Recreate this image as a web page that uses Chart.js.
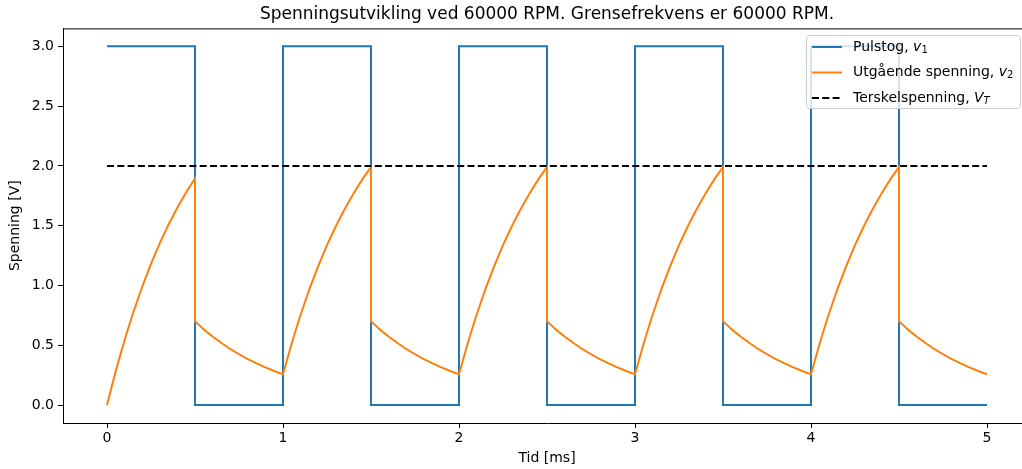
<!DOCTYPE html>
<html>
<head>
<meta charset="utf-8">
<script src="https://cdn.jsdelivr.net/npm/chart.js@4"></script>
<style>
  html, body { margin: 0; padding: 0; background: #fff; overflow: hidden; }
  #wrap { position: absolute; left: 0; top: 0; width: 1040px; height: 469px; }
</style>
</head>
<body>
<div id="wrap"><canvas id="chart" width="1040" height="469"></canvas></div>
<script>
// Pulstog v1
const pulsTid = [0, 0.5, 0.5, 1, 1, 1.5, 1.5, 2, 2, 2.5, 2.5, 3, 3, 3.5, 3.5, 4, 4, 4.5, 4.5, 5];
const pulsV   = [3, 3, 0, 0, 3, 3, 0, 0, 3, 3, 0, 0, 3, 3, 0, 0, 3, 3, 0, 0];

// Utgående spenning v2 (lest av figuren)
const v2Tid = [
  0, 0.05, 0.1, 0.15, 0.2, 0.25, 0.3, 0.35, 0.4, 0.45, 0.5,
  0.5, 0.55, 0.6, 0.65, 0.7, 0.75, 0.8, 0.85, 0.9, 0.95, 1,
  1.05, 1.1, 1.15, 1.2, 1.25, 1.3, 1.35, 1.4, 1.45, 1.5,
  1.5, 1.55, 1.6, 1.65, 1.7, 1.75, 1.8, 1.85, 1.9, 1.95, 2,
  2.05, 2.1, 2.15, 2.2, 2.25, 2.3, 2.35, 2.4, 2.45, 2.5,
  2.5, 2.55, 2.6, 2.65, 2.7, 2.75, 2.8, 2.85, 2.9, 2.95, 3,
  3.05, 3.1, 3.15, 3.2, 3.25, 3.3, 3.35, 3.4, 3.45, 3.5,
  3.5, 3.55, 3.6, 3.65, 3.7, 3.75, 3.8, 3.85, 3.9, 3.95, 4,
  4.05, 4.1, 4.15, 4.2, 4.25, 4.3, 4.35, 4.4, 4.45, 4.5,
  4.5, 4.55, 4.6, 4.65, 4.7, 4.75, 4.8, 4.85, 4.9, 4.95, 5
];
const v2 = [
  0, 0.286, 0.544, 0.778, 0.989, 1.180, 1.354, 1.510, 1.652, 1.780, 1.896,
  0.700, 0.633, 0.573, 0.519, 0.469, 0.425, 0.384, 0.348, 0.315, 0.285, 0.258,
  0.519, 0.755, 0.969, 1.162, 1.337, 1.495, 1.638, 1.768, 1.885, 1.991,
  0.700, 0.633, 0.573, 0.519, 0.469, 0.425, 0.384, 0.348, 0.315, 0.285, 0.258,
  0.519, 0.755, 0.969, 1.162, 1.337, 1.495, 1.638, 1.768, 1.885, 1.991,
  0.700, 0.633, 0.573, 0.519, 0.469, 0.425, 0.384, 0.348, 0.315, 0.285, 0.258,
  0.519, 0.755, 0.969, 1.162, 1.337, 1.495, 1.638, 1.768, 1.885, 1.991,
  0.700, 0.633, 0.573, 0.519, 0.469, 0.425, 0.384, 0.348, 0.315, 0.285, 0.258,
  0.519, 0.755, 0.969, 1.162, 1.337, 1.495, 1.638, 1.768, 1.885, 1.991,
  0.700, 0.633, 0.573, 0.519, 0.469, 0.425, 0.384, 0.348, 0.315, 0.285, 0.258
];

// Terskelspenning VT
const terskelTid = [0, 5];
const terskelV = [2, 2];

const xTicks = [0, 1, 2, 3, 4, 5];
const yTicks = [0, 0.5, 1, 1.5, 2, 2.5, 3];

const legendTekst = ['Pulstog, ', 'Utgående spenning, ', 'Terskelspenning, '];
const legendSymbol = [['v', '1'], ['v', '2'], ['V', 'T']];

const FONT = "'DejaVu Sans', sans-serif";
const BLUE = '#1f77b4', ORANGE = '#ff7f0e';

function pts(xs, ys) { return xs.map((x, i) => ({ x: x, y: ys[i] })); }

// top spine + matplotlib-style legend with subscripts
const extras = {
  id: 'extras',
  afterDatasetsDraw(chart) {
    const ctx = chart.ctx, a = chart.chartArea;
    ctx.save();
    ctx.strokeStyle = '#000';
    ctx.lineWidth = 1;
    ctx.beginPath();
    ctx.moveTo(a.left, a.top + 0.5);
    ctx.lineTo(a.right, a.top + 0.5);
    ctx.stroke();

    // legend box
    const bx = 806, by = 35, bw = 214, bh = 73;
    ctx.beginPath();
    ctx.roundRect(bx + 0.5, by + 0.5, bw, bh, 3);
    ctx.fillStyle = 'rgba(255,255,255,0.8)';
    ctx.fill();
    ctx.strokeStyle = '#cccccc';
    ctx.stroke();

    const rows = [47, 72.5, 98];
    const colors = [BLUE, ORANGE, '#000'];
    rows.forEach((ry, i) => {
      ctx.strokeStyle = colors[i];
      ctx.lineWidth = 2;
      ctx.setLineDash(i === 2 ? [7, 3.3] : []);
      ctx.beginPath();
      ctx.moveTo(812, ry);
      ctx.lineTo(842, ry);
      ctx.stroke();
      ctx.setLineDash([]);

      ctx.fillStyle = '#000';
      ctx.textBaseline = 'middle';
      ctx.textAlign = 'left';
      ctx.font = '14px ' + FONT;
      let tx = 853;
      ctx.fillText(legendTekst[i], tx, ry);
      tx += ctx.measureText(legendTekst[i]).width;
      ctx.font = 'italic 14px ' + FONT;
      ctx.fillText(legendSymbol[i][0], tx, ry);
      tx += ctx.measureText(legendSymbol[i][0]).width;
      ctx.font = (legendSymbol[i][1] === 'T' ? 'italic ' : '') + '10px ' + FONT;
      ctx.fillText(legendSymbol[i][1], tx, ry + 3);
    });
    ctx.restore();
  }
};

new Chart(document.getElementById('chart'), {
  type: 'line',
  data: {
    datasets: [
      { label: 'Pulstog', data: pts(pulsTid, pulsV), borderColor: BLUE, borderWidth: 2, pointRadius: 0, order: 3 },
      { label: 'Utgående spenning', data: pts(v2Tid, v2), borderColor: ORANGE, borderWidth: 2, pointRadius: 0, order: 2 },
      { label: 'Terskelspenning', data: pts(terskelTid, terskelV), borderColor: '#000', borderWidth: 2, borderDash: [7, 3.3], pointRadius: 0, order: 1 }
    ]
  },
  options: {
    responsive: false,
    animation: false,
    layout: { padding: { left: 0, right: 9, top: 0, bottom: 0 } },
    plugins: {
      legend: { display: false },
      tooltip: { enabled: false },
      title: {
        display: true,
        fullSize: false,
        text: 'Spenningsutvikling ved 60000 RPM. Grensefrekvens er 60000 RPM.',
        color: '#000',
        font: { family: FONT, size: 17, weight: 'normal' },
        padding: { top: 4, bottom: 4 }
      }
    },
    scales: {
      x: {
        type: 'linear',
        min: -0.25,
        max: 5.25,
        afterBuildTicks: s => { s.ticks = xTicks.map(v => ({ value: v })); },
        afterFit: s => { s.height = 46; },
        grid: { drawOnChartArea: false, drawTicks: true, tickLength: 5, color: '#000' },
        border: { display: true, color: '#000', width: 1 },
        ticks: { color: '#000', font: { family: FONT, size: 14 }, padding: 2, maxRotation: 0 },
        title: { display: true, text: 'Tid [ms]', color: '#000', font: { family: FONT, size: 14 }, padding: { top: 0, bottom: 2 } }
      },
      y: {
        min: -0.15,
        max: 3.15,
        afterBuildTicks: s => { s.ticks = yTicks.map(v => ({ value: v })); },
        afterFit: s => { s.width = 63; },
        grid: { drawOnChartArea: false, drawTicks: true, tickLength: 5, color: '#000' },
        border: { display: true, color: '#000', width: 1 },
        ticks: { color: '#000', font: { family: FONT, size: 14 }, padding: 4, callback: v => v.toFixed(1) },
        title: { display: true, text: 'Spenning [V]', color: '#000', font: { family: FONT, size: 14 }, padding: { top: 7, bottom: 0 } }
      }
    }
  },
  plugins: [extras]
});
</script>
</body>
</html>
